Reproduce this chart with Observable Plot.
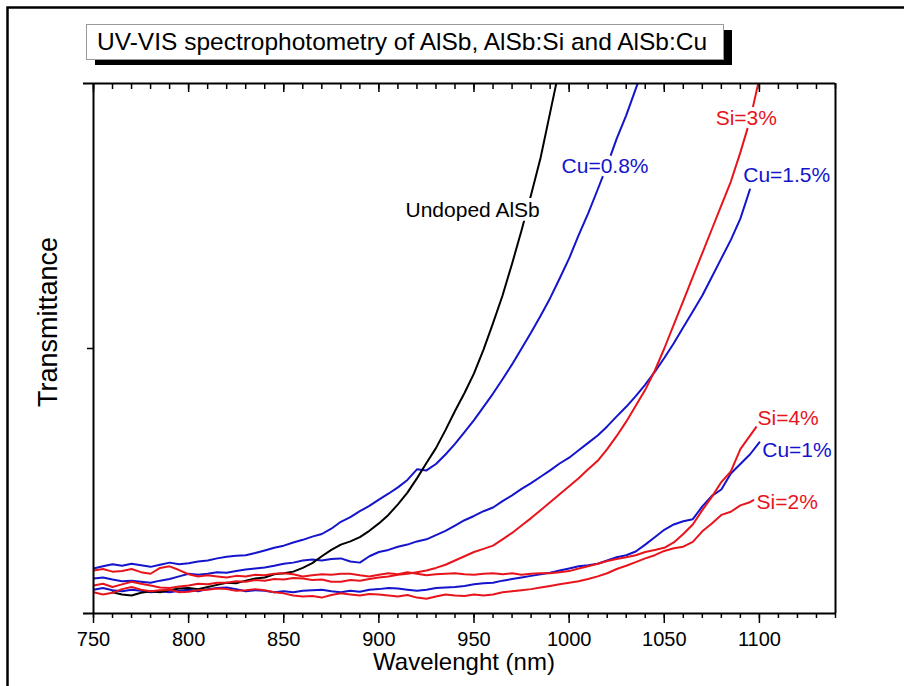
<!DOCTYPE html>
<html><head><meta charset="utf-8">
<script src="https://cdn.jsdelivr.net/npm/d3@7"></script>
<script src="https://cdn.jsdelivr.net/npm/@observablehq/plot@0.6"></script>
<style>
body{margin:0;background:#fff;}
#chart{position:relative;width:904px;height:686px;overflow:hidden;background:#fff;}
</style></head><body><div id="chart"></div>
<script>
// Wavelength grid (nm)
const wavelength = [750,755,760,765,770,775,780,785,790,795,800,805,810,815,820,825,830,835,840,845,850,855,860,865,870,875,880,885,890,895,900,905,910,915,920,925,930,935,940,945,950,955,960,965,970,975,980,985,990,995,1000,1005,1010,1015,1020,1025,1030,1035,1040,1045,1050,1055,1060,1065,1070,1075,1080,1085,1090,1095,1100];

// Transmittance (arbitrary units, 0-100 of plot height)
const undoped = [null,null,4.0,3.6,3.4,3.9,4.2,4.0,4.4,4.7,4.8,4.6,5.0,5.4,5.8,5.7,6.2,6.6,6.8,7.4,7.6,7.9,8.6,9.5,10.8,12.0,13.0,13.6,14.4,15.6,17.0,18.6,20.6,22.8,25.5,28.4,31.2,34.6,38.2,41.6,45.3,49.8,54.8,60.0,66.0,72.3,79.0,86.0,94.5,103,null,null,null,null,null,null,null,null,null,null,null,null,null,null,null,null,null,null,null,null,null];
const cu08 = [8.5,8.9,9.3,9.0,9.4,9.1,8.8,9.2,9.6,9.3,9.5,9.8,10.0,10.4,10.7,10.9,11.0,11.4,11.9,12.4,12.8,13.4,13.9,14.5,15.0,16.0,17.3,18.2,19.3,20.3,21.5,22.6,23.8,25.2,27.2,27.0,28.2,30.0,32.0,34.2,36.5,39.0,41.5,44.2,47.0,50.0,53.0,56.2,59.5,63.2,67.0,71.4,75.5,80.0,84.6,89.6,94.0,99.0,104,null,null,null,null,null,null,null,null,null,null,null,null];
const cu15 = [6.6,6.8,6.4,6.1,6.2,6.0,5.8,6.2,6.5,7.0,7.5,7.3,7.5,7.8,7.7,8.0,8.3,8.5,8.7,9.0,9.4,9.6,10.0,10.2,10.0,10.3,10.4,9.8,9.6,10.8,11.6,12.0,12.6,13.0,13.6,14.0,14.8,15.6,16.6,17.6,18.4,19.3,20.0,21.2,22.3,23.5,24.6,25.8,27.0,28.3,29.4,30.8,32.2,33.6,35.3,37.2,39.0,41.0,43.2,45.6,48.2,51.0,54.0,57.0,60.0,63.5,67.0,70.5,74.5,80.0,null];
const si3 = [5.3,5.6,5.0,5.5,6.0,5.6,5.3,4.9,4.8,5.1,5.3,5.6,5.5,5.8,5.8,6.1,6.0,6.3,6.2,6.5,6.4,6.7,6.6,6.3,6.4,6.0,6.0,6.3,6.2,6.5,6.8,7.0,7.3,7.5,7.8,8.1,8.6,9.2,10.0,10.8,11.6,12.2,12.8,14.0,15.2,16.6,18.0,19.5,21.0,22.5,24.0,25.5,27.2,28.8,31.0,33.5,36.2,39.2,42.2,45.8,50.0,54.5,59.0,63.5,68.0,72.5,77.0,81.5,87.0,93.0,101];
const si4 = [8.1,8.4,7.9,8.0,8.4,7.8,7.5,8.6,8.9,8.2,7.4,7.0,7.2,7.0,6.8,7.1,7.0,7.3,7.2,7.5,7.6,7.4,7.0,7.2,7.4,7.3,7.5,7.5,7.2,7.0,7.3,7.6,7.4,7.8,7.5,7.2,7.4,7.5,7.6,7.4,7.3,7.5,7.6,7.4,7.6,7.3,7.5,7.6,7.6,7.8,8.0,8.5,8.9,9.4,9.9,10.3,10.6,11.0,11.6,12.0,12.4,13.4,15.0,16.8,19.5,22.0,24.8,26.8,31.0,33.5,36.0];
const si2 = [4.0,3.6,3.9,4.6,5.0,4.5,4.2,4.4,4.5,4.0,4.1,4.4,4.5,4.7,4.6,4.3,4.4,4.6,4.4,4.0,3.8,3.4,3.2,3.3,3.0,3.5,3.8,3.6,3.4,3.7,3.6,3.4,3.2,3.5,3.0,2.8,3.2,3.6,3.4,3.3,3.6,3.4,3.6,4.0,4.2,4.4,4.6,4.9,5.2,5.5,5.8,6.1,6.5,7.0,7.6,8.4,9.0,9.7,10.4,11.0,11.8,12.3,12.6,13.5,15.5,17.0,18.6,19.2,20.4,21.0,22.0];
const cu1 = [4.5,4.8,4.4,4.2,4.5,4.3,4.0,4.2,4.0,4.3,4.5,4.2,4.6,4.8,4.9,4.6,4.2,4.4,4.3,4.0,4.2,4.0,4.3,4.4,4.5,4.2,4.0,4.3,4.1,4.5,4.6,4.8,4.7,4.5,4.3,4.5,4.8,4.9,5.0,5.2,5.5,5.7,5.8,6.2,6.5,6.8,7.1,7.4,7.7,8.1,8.5,8.9,9.1,9.4,10.0,10.6,11.0,11.7,13.0,14.4,15.8,16.8,17.4,17.8,20.2,22.2,23.4,26.4,28.2,30.0,32.3];

const seriesNames = ["Cu=1%","Cu=1.5%","Cu=0.8%","Undoped AlSb","Si=2%","Si=4%","Si=3%"];
const seriesValues = [cu1, cu15, cu08, undoped, si2, si4, si3];
const seriesColors = ["#1414cc","#1414cc","#1414cc","#000000","#e8141c","#e8141c","#e8141c"];

const xMajorTicks = [750,800,850,900,950,1000,1050,1100];
const xMinorTicks = [750,760,770,780,790,800,810,820,830,840,850,860,870,880,890,900,910,920,930,940,950,960,970,980,990,1000,1010,1020,1030,1040,1050,1060,1070,1080,1090,1100,1110,1120,1130,1140];
const yTicks = [50];

// Curve annotations
const labelText = ["Undoped AlSb","Cu=0.8%","Si=3%","Cu=1.5%","Si=4%","Cu=1%","Si=2%"];
const labelWl = [914, 996, 1077, 1091.5, 1099, 1101.5, 1098.5];
const labelT = [76, 84.3, 93.4, 82.6, 36.8, 30.8, 21];
const labelColors = ["#000000","#1414cc","#e8141c","#1414cc","#e8141c","#1414cc","#e8141c"];

const rows = [];
seriesNames.forEach((name, s) => {
  seriesValues[s].forEach((v, i) => {
    if (v != null) rows.push({series: name, wl: wavelength[i], t: v});
  });
});
const labels = labelText.map((t, i) => ({text: t, wl: labelWl[i], t: labelT[i], color: labelColors[i]}));

const font = "'Liberation Sans', Arial, sans-serif";
const plot = Plot.plot({
  width: 904, height: 686,
  marginLeft: 93, marginRight: 69, marginTop: 83, marginBottom: 73,
  x: {domain: [750, 1140]},
  y: {domain: [0, 100]},
  color: {domain: seriesNames, range: seriesColors},
  style: {fontFamily: font, background: "transparent", color: "#000"},
  marks: [
    Plot.line(rows, {x: "wl", y: "t", z: "series", stroke: "series", strokeWidth: 2, clip: true}),
    Plot.text(labels, {x: "wl", y: "t", text: "text", fill: "color", fontSize: 21, textAnchor: "start", stroke: "white", strokeWidth: 8, strokeLinejoin: "miter"}),
    Plot.axisX({anchor: "bottom", ticks: xMinorTicks, tickSize: 5, tickFormat: () => "", label: null, strokeWidth: 1.5}),
    Plot.axisX({anchor: "bottom", ticks: xMajorTicks, tickSize: 10, tickPadding: 8, tickFormat: "d", fontSize: 20, label: null, strokeWidth: 1.5}),
    Plot.axisX({anchor: "top", ticks: xMinorTicks, tickSize: -5, tickFormat: () => "", label: null, strokeWidth: 1.5}),
    Plot.axisX({anchor: "top", ticks: xMajorTicks, tickSize: -8, tickFormat: () => "", label: null, strokeWidth: 1.5}),
    Plot.axisY({anchor: "left", ticks: yTicks, tickSize: 6, tickFormat: () => "", label: null, strokeWidth: 1.5}),
    Plot.ruleX([750, 1140], {strokeWidth: 2}),
    Plot.ruleY([0, 100], {strokeWidth: 2, insetLeft: -10})
  ]
});
document.getElementById("chart").appendChild(plot);

const svg = d3.select(plot);

// outer border
svg.append("rect").attr("x", 7.5).attr("y", 7.5).attr("width", 1200).attr("height", 1200)
  .attr("fill", "none").attr("stroke", "#000").attr("stroke-width", 2.5);

// title box with shadow
const tb = svg.append("g");
tb.append("rect").attr("x", 95).attr("y", 30).attr("width", 637).attr("height", 35).attr("fill", "#000");
tb.append("rect").attr("x", 86.5).attr("y", 24.5).attr("width", 637).attr("height", 35)
  .attr("fill", "#fff").attr("stroke", "#999").attr("stroke-width", 1);
tb.append("text").attr("x", 97).attr("y", 50).attr("text-anchor", "start").attr("font-family", font).attr("font-size", 24.5)
  .attr("fill", "#000").text("UV-VIS spectrophotometry of AlSb, AlSb:Si and AlSb:Cu");

// axis titles
svg.append("text").attr("x", 464).attr("y", 670).attr("text-anchor", "middle")
  .attr("font-family", font).attr("font-size", 24).attr("fill", "#000").text("Wavelenght (nm)");
svg.append("text").attr("transform", "translate(57,322) rotate(-90)").attr("text-anchor", "middle")
  .attr("font-family", font).attr("font-size", 27).attr("fill", "#000").text("Transmittance");
</script>
</body></html>
